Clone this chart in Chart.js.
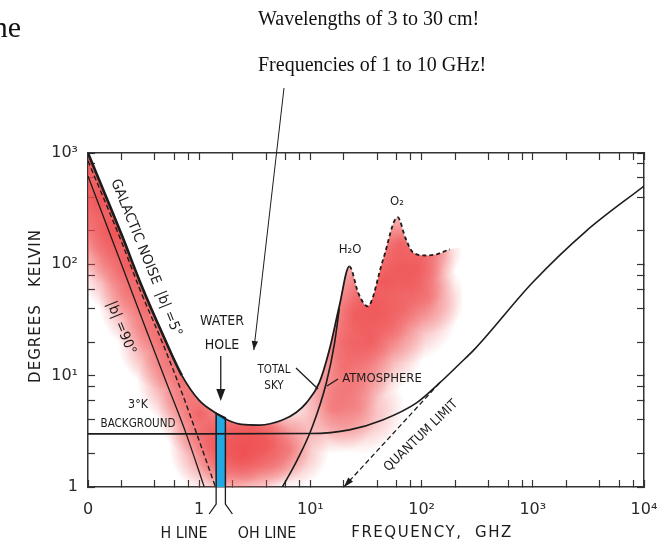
<!DOCTYPE html>
<html>
<head>
<meta charset="utf-8">
<script src="https://cdn.jsdelivr.net/npm/chart.js@4/dist/chart.umd.min.js"></script>
<style>
html,body{margin:0;padding:0;background:#fff;}
canvas{display:block;}
</style>
</head>
<body>
<canvas id="c" width="661" height="548"></canvas>
<script>
// ---------------- data ----------------
const totalSkyFreq = [0.1, 0.2, 0.3, 0.465, 0.7, 1.0, 1.42, 1.8, 2.4, 3.5, 5.6, 7.5, 9.2, 12, 14.8, 18.2, 22.4, 27, 32.7, 45, 60.8, 72, 83, 110, 136, 180, 230];
const totalSkyTemp = [1000, 186, 66, 24, 10, 6.0, 4.6, 4.0, 3.65, 3.6, 4.0, 4.7, 5.7, 8.6, 17, 42, 96, 55, 42, 110, 265, 170, 129, 120, 123, 136, 140];
const atmosFreq = [5.6, 7.5, 10.2, 13.9, 16.4, 18.2];
const atmosTemp = [1.0, 1.7, 3.3, 8.6, 19, 40];
const galactic5Freq = [0.1, 0.2, 0.3, 0.465, 0.7, 1.0, 1.4];
const galactic5Temp = [850, 160, 56, 20, 7.0, 2.6, 1.0];
const galactic90Freq = [0.1, 0.2, 0.333, 0.5, 0.764, 1.11];
const galactic90Temp = [620, 100, 26, 9.0, 3.0, 1.0];
const backgroundFreq = [0.1, 1, 10, 22.4, 44.6, 90, 145, 220, 300, 1000, 3000, 10000];
const backgroundTemp = [3.0, 3.0, 3.02, 3.26, 4.0, 5.7, 8.6, 12.8, 17.3, 69, 198, 505];
const quantumFreq = [20, 145];
const quantumTemp = [1.0, 8.6];
const waterHoleFreq = [1.42, 1.42, 1.72, 1.72];
const waterHoleTemp = [1.0, 4.6, 4.2, 1.0];

const xTickValues = [0.1, 0.2, 0.4, 0.6, 0.8, 1, 2, 4, 6, 8, 10, 20, 40, 60, 80, 100, 200, 400, 600, 800, 1000, 2000, 4000, 6000, 8000, 10000];
const xTickLabels = { 0.1: '0', 1: '1', 10: '10¹', 100: '10²', 1000: '10³', 10000: '10⁴' };
const yTickValues = [1, 2, 4, 6, 8, 10, 20, 40, 60, 80, 100, 200, 400, 600, 800, 1000];
const yTickLabels = { 1: '1', 10: '10¹', 100: '10²', 1000: '10³' };

// ---------------- styling helpers ----------------
const SANS = '"DejaVu Sans", "Liberation Sans", sans-serif';
const SERIF = '"Liberation Serif", "DejaVu Serif", serif';
const INK = '#1c1c1c';
const RED = '238,72,74';
// soft red shading: [frequency, temperature, radius px, alpha]
const RED_BLOBS = [
  [0.1, 1000, 65, 0.9], [0.13, 400, 60, 0.85], [0.18, 200, 55, 0.85], [0.25, 100, 55, 0.85],
  [0.35, 45, 50, 0.8], [0.5, 20, 48, 0.8], [0.7, 9, 45, 0.75], [1.0, 4.5, 42, 0.75],
  [1.5, 2.3, 50, 0.85], [2.5, 2.0, 50, 0.85], [4.0, 2.4, 45, 0.7], [6.5, 2.2, 40, 0.5], [3.0, 3.3, 30, 0.5],
  [16, 5, 45, 0.6], [20, 12, 50, 0.7], [25, 35, 55, 0.75], [35, 20, 55, 0.7], [28, 5, 45, 0.45],
  [45, 70, 60, 0.8], [65, 150, 50, 0.75], [70, 40, 55, 0.6], [90, 90, 40, 0.6], [120, 50, 36, 0.4],
  [130, 130, 28, 0.45]
];

const pts = (fs, ts) => fs.map((f, i) => ({ x: f, y: ts[i] }));

let patternCache = null;
function redField(chart) {
  const area = chart.chartArea;
  if (!area || !chart.scales.x) return 'rgba(' + RED + ',0.5)';
  const key = [area.left, area.top, area.right, area.bottom].join(',');
  if (patternCache && patternCache.key === key) return patternCache.pattern;
  const off = document.createElement('canvas');
  off.width = chart.width; off.height = chart.height;
  const g = off.getContext('2d');
  const sx = chart.scales.x, sy = chart.scales.y;
  for (const [f, t, r, a] of RED_BLOBS) {
    const cx = sx.getPixelForValue(f), cy = sy.getPixelForValue(t);
    const gr = g.createRadialGradient(cx, cy, 0, cx, cy, r);
    gr.addColorStop(0, 'rgba(' + RED + ',' + a + ')');
    gr.addColorStop(0.5, 'rgba(' + RED + ',' + (a * 0.6) + ')');
    gr.addColorStop(1, 'rgba(' + RED + ',0)');
    g.fillStyle = gr;
    g.fillRect(cx - r, cy - r, 2 * r, 2 * r);
  }
  const pattern = chart.ctx.createPattern(off, 'no-repeat');
  patternCache = { key, pattern };
  return pattern;
}

function txt(c, s, x, y, o = {}) {
  c.save();
  c.font = o.font || ('13px ' + SANS);
  c.fillStyle = o.color || INK;
  c.textAlign = o.align || 'center';
  c.textBaseline = o.baseline || 'middle';
  if (o.spacing && 'letterSpacing' in c) c.letterSpacing = o.spacing;
  c.translate(x, y);
  if (o.rot) c.rotate(o.rot * Math.PI / 180);
  if (o.sx) c.scale(o.sx, 1);
  c.fillText(s, 0, 0);
  c.restore();
}
function seg(c, p) {
  c.beginPath();
  c.moveTo(p[0][0], p[0][1]);
  for (let i = 1; i < p.length; i++) c.lineTo(p[i][0], p[i][1]);
  c.stroke();
}
function head(c, x1, y1, x2, y2, len = 9, w = 3.5) {
  const a = Math.atan2(y2 - y1, x2 - x1);
  c.beginPath();
  c.moveTo(x2, y2);
  c.lineTo(x2 - len * Math.cos(a) + w * Math.sin(a), y2 - len * Math.sin(a) - w * Math.cos(a));
  c.lineTo(x2 - len * Math.cos(a) - w * Math.sin(a), y2 - len * Math.sin(a) + w * Math.cos(a));
  c.closePath();
  c.fill();
}

const annotations = {
  id: 'annotations',
  afterDraw(chart) {
    const c = chart.ctx;
    const X = v => chart.scales.x.getPixelForValue(v);
    const Y = v => chart.scales.y.getPixelForValue(v);
    const bottom = chart.chartArea.bottom;
    c.save();
    c.strokeStyle = INK; c.fillStyle = INK; c.lineWidth = 1.2;

    // header text
    txt(c, 'ne', 21, 37, { font: '30px ' + SERIF, align: 'right', baseline: 'alphabetic', color: '#111' });
    txt(c, 'Wavelengths of 3 to 30 cm!', 258, 25, { font: '20px ' + SERIF, align: 'left', baseline: 'alphabetic', color: '#111' });
    txt(c, 'Frequencies of 1 to 10 GHz!', 258, 71, { font: '20px ' + SERIF, align: 'left', baseline: 'alphabetic', color: '#111' });
    // pointer from header into the chart
    const px = X(3.1), py = Y(17);
    c.lineWidth = 1;
    seg(c, [[284, 88], [px, py]]);
    head(c, 284, 88, px, py, 9, 3.2);

    // water hole label + arrow
    c.lineWidth = 1.3;
    txt(c, 'WATER', 222, 321, { font: '14px ' + SANS, sx: 0.9 });
    txt(c, 'HOLE', 222, 345, { font: '14px ' + SANS, sx: 0.9 });
    const wx = (X(waterHoleFreq[0]) + X(waterHoleFreq[2])) / 2;
    seg(c, [[wx, 356], [wx, 392]]);
    head(c, wx, 356, wx, 401, 12, 4.5);

    // galactic labels
    txt(c, 'GALACTIC NOISE  |b| =5°', 146, 258, { font: '14px ' + SANS, rot: 68, sx: 0.95 });
    txt(c, '|b| =90°', 121, 328, { font: '14px ' + SANS, rot: 68, sx: 0.95 });

    // 3K background
    txt(c, '3°K', 138, 405, { font: '13px ' + SANS, sx: 0.85 });
    txt(c, 'BACKGROUND', 138, 424, { font: '13px ' + SANS, sx: 0.8 });

    // total sky
    txt(c, 'TOTAL', 274, 370, { font: '13px ' + SANS, sx: 0.8 });
    txt(c, 'SKY', 274, 386, { font: '13px ' + SANS, sx: 0.8 });
    seg(c, [[296, 368], [318, 389]]);

    // atmosphere
    txt(c, 'ATMOSPHERE', 382, 379, { font: '13px ' + SANS, sx: 0.9 });
    seg(c, [[327, 386], [338, 379]]);

    // molecules
    txt(c, 'H₂O', 350, 250, { font: '13px ' + SANS, sx: 0.9 });
    txt(c, 'O₂', 397, 202, { font: '13px ' + SANS, sx: 0.9 });

    // quantum limit
    txt(c, 'QUANTUM LIMIT', 421, 436, { font: '13px ' + SANS, rot: -44, sx: 0.92 });
    head(c, X(quantumFreq[1]), Y(quantumTemp[1]), X(quantumFreq[0]), Y(quantumTemp[0]), 10, 3.2);

    // H line / OH line leaders
    const xH = X(waterHoleFreq[0]), xOH = X(waterHoleFreq[2]);
    c.lineWidth = 1.3;
    seg(c, [[xH, bottom], [xH, bottom + 17], [xH - 7, bottom + 27]]);
    seg(c, [[xOH, bottom], [xOH, bottom + 17], [xOH + 7, bottom + 27]]);
    txt(c, 'H LINE', 184, 534, { font: '15px ' + SANS, sx: 0.95 });
    txt(c, 'OH LINE', 267, 534, { font: '15px ' + SANS, sx: 0.95 });

    // axis titles
    txt(c, 'FREQUENCY,  GHZ', 432, 533, { font: '15px ' + SANS, spacing: '1.5px' });
    txt(c, 'DEGREES   KELVIN', 36, 306, { font: '15px ' + SANS, rot: -90, spacing: '1px' });
    c.restore();
  }
};

// ---------------- axes ----------------
const tickFont = { family: SANS, size: 16 };
const gridOpts = { drawOnChartArea: false, drawTicks: true, tickLength: -7, tickColor: '#333', tickWidth: 1.2 };
const borderOpts = { display: true, color: '#333', width: 1.5 };
const noPad = s => { s.paddingLeft = 0; s.paddingRight = 0; s.paddingTop = 0; s.paddingBottom = 0; };

const xCommon = {
  type: 'logarithmic', min: 0.1, max: 10000,
  afterBuildTicks: s => { s.ticks = xTickValues.map(v => ({ value: v })); },
  grid: gridOpts, border: borderOpts
};
const yCommon = {
  type: 'logarithmic', min: 1, max: 1000,
  afterBuildTicks: s => { s.ticks = yTickValues.map(v => ({ value: v })); },
  grid: gridOpts, border: borderOpts
};

const lineBase = { pointRadius: 0, pointHoverRadius: 0, fill: false, borderColor: INK, cubicInterpolationMode: 'monotone', order: 1 };

new Chart(document.getElementById('c'), {
  type: 'line',
  data: {
    datasets: [
      Object.assign({}, lineBase, { label: 'Galactic noise |b|=90°', data: pts(galactic90Freq, galactic90Temp), borderWidth: 1.3 }),
      Object.assign({}, lineBase, { label: 'Galactic noise |b|=5°', data: pts(galactic5Freq, galactic5Temp), borderWidth: 1.4, borderDash: [5, 3] }),
      Object.assign({}, lineBase, { label: 'Atmosphere', data: pts(atmosFreq, atmosTemp), borderWidth: 1.6 }),
      Object.assign({}, lineBase, { label: '3°K background', data: pts(backgroundFreq, backgroundTemp), borderWidth: 1.6 }),
      Object.assign({}, lineBase, { label: 'Quantum limit', data: pts(quantumFreq, quantumTemp), borderWidth: 1.3, borderDash: [5, 3], cubicInterpolationMode: 'default', tension: 0 }),
      Object.assign({}, lineBase, { label: 'Total sky', data: pts(totalSkyFreq, totalSkyTemp), borderWidth: 1.8, order: 2,
        segment: {
          borderDash: s => s.p0.parsed.x >= 22.3 ? [4, 3] : undefined,
          borderColor: s => s.p0.parsed.x >= 180 ? 'rgba(0,0,0,0)' : undefined,
          borderWidth: s => s.p1.parsed.x <= 0.75 ? 2.6 : undefined
        } }),
      { label: 'Water hole', data: pts(waterHoleFreq, waterHoleTemp), pointRadius: 0, tension: 0,
        borderColor: INK, borderWidth: 1.5, backgroundColor: '#22a8e2', fill: 'start', order: 5 },
      { label: 'Total sky area', data: pts(totalSkyFreq, totalSkyTemp), pointRadius: 0,
        cubicInterpolationMode: 'monotone', borderWidth: 0, borderColor: 'rgba(0,0,0,0)',
        backgroundColor: ctx => redField(ctx.chart), fill: 'start', order: 10 }
    ]
  },
  options: {
    responsive: false, animation: false, devicePixelRatio: 1,
    layout: { padding: { top: 153, right: 17, left: 0, bottom: 0 } },
    plugins: { legend: { display: false }, tooltip: { enabled: false }, title: { display: false } },
    scales: {
      x: Object.assign({}, xCommon, {
        position: 'bottom',
        afterFit: s => { s.height = 61; noPad(s); },
        ticks: { autoSkip: false, maxRotation: 0, padding: 20, color: '#2a2a2a', font: tickFont,
                 callback: v => xTickLabels[v] ?? '' }
      }),
      x2: Object.assign({}, xCommon, {
        position: 'top',
        afterFit: s => { s.height = 0; noPad(s); },
        ticks: { display: false, autoSkip: false }
      }),
      y: Object.assign({}, yCommon, {
        position: 'left',
        afterFit: s => { s.width = 88; noPad(s); },
        ticks: { autoSkip: false, padding: 17, color: '#2a2a2a', font: tickFont,
                 callback: v => yTickLabels[v] ?? '' }
      }),
      y2: Object.assign({}, yCommon, {
        position: 'right',
        afterFit: s => { s.width = 0; noPad(s); },
        ticks: { display: false, autoSkip: false }
      })
    }
  },
  plugins: [annotations]
});
</script>
</body>
</html>
